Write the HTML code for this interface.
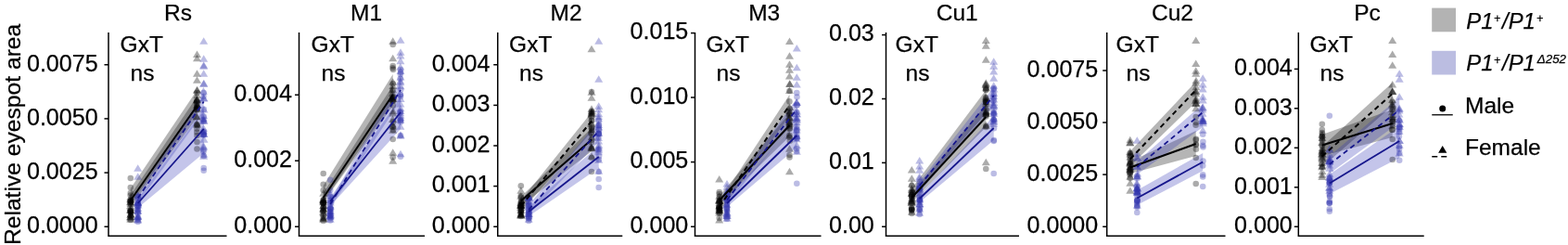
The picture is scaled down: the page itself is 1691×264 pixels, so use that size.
<!DOCTYPE html>
<html><head><meta charset="utf-8"><title>Relative eyespot area</title>
<style>html,body{margin:0;padding:0;background:#fff}svg{display:block}text{stroke:#000;stroke-width:.25px;stroke-linejoin:round}</style></head>
<body>
<svg width="1691" height="264" viewBox="0 0 1691 264" font-family="'Liberation Sans', sans-serif" font-size="24.5" fill="#000">
<rect width="1691" height="264" fill="#fff"/>
<text transform="translate(22.2,144.9) rotate(-90)" text-anchor="middle" font-size="24.65">Relative eyespot area</text>
<g>
<text x="192" y="21.7" text-anchor="middle" class="t">Rs</text>
<path d="M140.8 210L212.5 104V127L140.8 223Z" fill="#000000" fill-opacity="0.29"/>
<path d="M140.8 203L212.5 97V121L140.8 220Z" fill="#000000" fill-opacity="0.29"/>
<path d="M148.7 214L219.7 118V165L148.7 224Z" fill="#3338b8" fill-opacity="0.29"/>
<path d="M148.7 209L219.7 100V121L148.7 219Z" fill="#3338b8" fill-opacity="0.29"/>
<g fill="#000000" fill-opacity="0.33">
<circle cx="140.8" cy="216.3" r="3.3"/><circle cx="140.8" cy="219.7" r="3.3"/><circle cx="140.9" cy="229.8" r="3.3"/><circle cx="140.7" cy="232.7" r="3.3"/><circle cx="140.6" cy="217.9" r="3.3"/><circle cx="140.5" cy="226.6" r="3.3"/><circle cx="140.7" cy="210.5" r="3.3"/><circle cx="140.9" cy="228.0" r="3.3"/><circle cx="140.9" cy="216.8" r="3.3"/><circle cx="141.0" cy="227.7" r="3.3"/><circle cx="141.0" cy="229.2" r="3.3"/><circle cx="140.9" cy="227.5" r="3.3"/><circle cx="140.8" cy="216.4" r="3.3"/><circle cx="140.8" cy="208.0" r="3.3"/><circle cx="140.8" cy="237.0" r="3.3"/><circle cx="212.6" cy="135.3" r="3.3"/><circle cx="212.2" cy="108.7" r="3.3"/><circle cx="212.7" cy="116.2" r="3.3"/><circle cx="212.4" cy="138.7" r="3.3"/><circle cx="212.3" cy="142.6" r="3.3"/><circle cx="212.2" cy="112.0" r="3.3"/><circle cx="212.6" cy="118.5" r="3.3"/><circle cx="212.4" cy="110.1" r="3.3"/><circle cx="212.2" cy="115.8" r="3.3"/><circle cx="212.2" cy="117.9" r="3.3"/><circle cx="212.7" cy="114.4" r="3.3"/><circle cx="212.4" cy="134.0" r="3.3"/><circle cx="212.5" cy="100.0" r="3.3"/><circle cx="212.5" cy="146.0" r="3.3"/><circle cx="140.8" cy="192.0" r="3.3"/><circle cx="140.8" cy="202.0" r="3.3"/><circle cx="212.5" cy="153.0" r="3.3"/><circle cx="212.5" cy="160.5" r="3.3"/>
</g>
<g fill="#000000" fill-opacity="0.33">
<path d="M140.6 213.4l4.5 7.6h-9.0z"/><path d="M140.8 229.5l4.5 7.6h-9.0z"/><path d="M141.1 226.8l4.5 7.6h-9.0z"/><path d="M140.8 222.5l4.5 7.6h-9.0z"/><path d="M140.9 211.6l4.5 7.6h-9.0z"/><path d="M140.5 217.7l4.5 7.6h-9.0z"/><path d="M140.8 213.8l4.5 7.6h-9.0z"/><path d="M140.6 230.6l4.5 7.6h-9.0z"/><path d="M141.0 215.3l4.5 7.6h-9.0z"/><path d="M140.6 210.3l4.5 7.6h-9.0z"/><path d="M141.1 226.7l4.5 7.6h-9.0z"/><path d="M141.1 219.5l4.5 7.6h-9.0z"/><path d="M140.5 222.0l4.5 7.6h-9.0z"/><path d="M140.8 208.2l4.5 7.6h-9.0z"/><path d="M140.8 232.2l4.5 7.6h-9.0z"/><path d="M212.7 109.2l4.5 7.6h-9.0z"/><path d="M212.6 102.7l4.5 7.6h-9.0z"/><path d="M212.4 112.8l4.5 7.6h-9.0z"/><path d="M212.2 103.8l4.5 7.6h-9.0z"/><path d="M212.3 128.9l4.5 7.6h-9.0z"/><path d="M212.5 103.5l4.5 7.6h-9.0z"/><path d="M212.3 122.0l4.5 7.6h-9.0z"/><path d="M212.7 98.5l4.5 7.6h-9.0z"/><path d="M212.5 109.5l4.5 7.6h-9.0z"/><path d="M212.4 93.0l4.5 7.6h-9.0z"/><path d="M212.2 121.4l4.5 7.6h-9.0z"/><path d="M212.7 92.9l4.5 7.6h-9.0z"/><path d="M212.5 82.2l4.5 7.6h-9.0z"/><path d="M212.5 130.2l4.5 7.6h-9.0z"/><path d="M212.5 54.5l4.5 7.6h-9.0z"/><path d="M212.5 58.7l4.5 7.6h-9.0z"/><path d="M212.5 75.2l4.5 7.6h-9.0z"/><path d="M140.8 227.2l4.5 7.6h-9.0z"/><path d="M140.8 229.2l4.5 7.6h-9.0z"/>
</g>
<g fill="#3135ac" fill-opacity="0.33">
<circle cx="148.9" cy="216.6" r="3.3"/><circle cx="148.6" cy="226.5" r="3.3"/><circle cx="148.4" cy="218.7" r="3.3"/><circle cx="149.0" cy="222.2" r="3.3"/><circle cx="148.4" cy="236.6" r="3.3"/><circle cx="149.0" cy="221.7" r="3.3"/><circle cx="148.4" cy="223.2" r="3.3"/><circle cx="148.5" cy="230.8" r="3.3"/><circle cx="148.6" cy="229.2" r="3.3"/><circle cx="148.5" cy="225.8" r="3.3"/><circle cx="149.0" cy="234.7" r="3.3"/><circle cx="148.9" cy="218.0" r="3.3"/><circle cx="148.6" cy="220.2" r="3.3"/><circle cx="148.7" cy="212.0" r="3.3"/><circle cx="148.7" cy="239.0" r="3.3"/><circle cx="219.6" cy="145.5" r="3.3"/><circle cx="219.6" cy="130.8" r="3.3"/><circle cx="219.5" cy="144.6" r="3.3"/><circle cx="219.6" cy="142.9" r="3.3"/><circle cx="219.7" cy="141.6" r="3.3"/><circle cx="219.5" cy="163.5" r="3.3"/><circle cx="219.5" cy="161.6" r="3.3"/><circle cx="219.8" cy="125.5" r="3.3"/><circle cx="219.8" cy="145.2" r="3.3"/><circle cx="219.5" cy="104.0" r="3.3"/><circle cx="219.9" cy="117.9" r="3.3"/><circle cx="219.5" cy="129.1" r="3.3"/><circle cx="219.7" cy="100.0" r="3.3"/><circle cx="219.7" cy="168.0" r="3.3"/><circle cx="219.7" cy="181.0" r="3.3"/><circle cx="219.7" cy="183.7" r="3.3"/>
</g>
<g fill="#3135ac" fill-opacity="0.33">
<path d="M148.8 214.9l4.5 7.6h-9.0z"/><path d="M148.7 213.7l4.5 7.6h-9.0z"/><path d="M148.6 229.6l4.5 7.6h-9.0z"/><path d="M148.8 208.5l4.5 7.6h-9.0z"/><path d="M148.8 214.3l4.5 7.6h-9.0z"/><path d="M148.8 228.6l4.5 7.6h-9.0z"/><path d="M148.8 220.5l4.5 7.6h-9.0z"/><path d="M148.7 222.7l4.5 7.6h-9.0z"/><path d="M149.0 216.9l4.5 7.6h-9.0z"/><path d="M148.7 206.8l4.5 7.6h-9.0z"/><path d="M148.7 214.0l4.5 7.6h-9.0z"/><path d="M148.7 229.5l4.5 7.6h-9.0z"/><path d="M148.6 223.3l4.5 7.6h-9.0z"/><path d="M148.7 206.2l4.5 7.6h-9.0z"/><path d="M148.7 233.2l4.5 7.6h-9.0z"/><path d="M219.9 162.2l4.5 7.6h-9.0z"/><path d="M219.6 86.2l4.5 7.6h-9.0z"/><path d="M219.6 120.4l4.5 7.6h-9.0z"/><path d="M220.0 126.2l4.5 7.6h-9.0z"/><path d="M220.0 140.4l4.5 7.6h-9.0z"/><path d="M219.7 154.7l4.5 7.6h-9.0z"/><path d="M220.0 146.1l4.5 7.6h-9.0z"/><path d="M219.8 101.6l4.5 7.6h-9.0z"/><path d="M219.5 125.9l4.5 7.6h-9.0z"/><path d="M220.0 114.0l4.5 7.6h-9.0z"/><path d="M219.6 137.2l4.5 7.6h-9.0z"/><path d="M219.9 102.0l4.5 7.6h-9.0z"/><path d="M219.6 139.8l4.5 7.6h-9.0z"/><path d="M219.5 124.0l4.5 7.6h-9.0z"/><path d="M219.6 134.2l4.5 7.6h-9.0z"/><path d="M219.4 94.1l4.5 7.6h-9.0z"/><path d="M219.9 85.8l4.5 7.6h-9.0z"/><path d="M219.5 153.1l4.5 7.6h-9.0z"/><path d="M219.7 75.2l4.5 7.6h-9.0z"/><path d="M219.7 164.2l4.5 7.6h-9.0z"/><path d="M219.7 40.2l4.5 7.6h-9.0z"/><path d="M219.7 59.2l4.5 7.6h-9.0z"/><path d="M219.7 66.2l4.5 7.6h-9.0z"/><path d="M219.7 67.2l4.5 7.6h-9.0z"/><path d="M148.7 177.2l4.5 7.6h-9.0z"/><path d="M148.7 186.2l4.5 7.6h-9.0z"/><path d="M148.7 232.2l4.5 7.6h-9.0z"/>
</g>
<path d="M140.8 216L212.5 114" stroke="#000" stroke-width="2.0" fill="none"/>
<path d="M148.7 219L219.7 139" stroke="#16168c" stroke-width="1.8" fill="none"/>
<path d="M148.7 213.5L219.7 109.5" stroke="#16168c" stroke-width="1.8" stroke-dasharray="5.5 4" fill="none"/>
<path d="M117 35V254.2H244.5" stroke="#000" stroke-width="1.5" fill="none"/>
<path d="M112.5 244.25H117" stroke="#000" stroke-width="1.5"/>
<text x="105.7" y="250.9" text-anchor="end" font-size="25.1">0.0000</text>
<path d="M112.5 186.1H117" stroke="#000" stroke-width="1.5"/>
<text x="105.7" y="192.8" text-anchor="end" font-size="25.1">0.0025</text>
<path d="M112.5 127.9H117" stroke="#000" stroke-width="1.5"/>
<text x="105.7" y="134.6" text-anchor="end" font-size="25.1">0.0050</text>
<path d="M112.5 69.75H117" stroke="#000" stroke-width="1.5"/>
<text x="105.7" y="76.5" text-anchor="end" font-size="25.1">0.0075</text>
<text x="129.6" y="55.8" class="t">GxT</text>
<text x="140.5" y="86.7" class="t">ns</text>
</g>
<g>
<text x="395" y="21.7" text-anchor="middle" class="t">M1</text>
<path d="M348.7 208L423.7 92V114L348.7 218Z" fill="#000000" fill-opacity="0.29"/>
<path d="M348.7 200L423.7 80V110L348.7 217Z" fill="#000000" fill-opacity="0.29"/>
<path d="M356.2 213L432 105V139L356.2 222Z" fill="#3338b8" fill-opacity="0.29"/>
<path d="M356.2 216L432 86V108L356.2 224Z" fill="#3338b8" fill-opacity="0.29"/>
<g fill="#000000" fill-opacity="0.33">
<circle cx="348.7" cy="218.6" r="3.3"/><circle cx="348.6" cy="227.0" r="3.3"/><circle cx="348.6" cy="224.0" r="3.3"/><circle cx="348.7" cy="234.8" r="3.3"/><circle cx="348.7" cy="215.3" r="3.3"/><circle cx="348.7" cy="232.2" r="3.3"/><circle cx="348.7" cy="218.2" r="3.3"/><circle cx="348.5" cy="218.4" r="3.3"/><circle cx="348.7" cy="219.4" r="3.3"/><circle cx="349.0" cy="215.5" r="3.3"/><circle cx="348.5" cy="219.0" r="3.3"/><circle cx="349.0" cy="223.0" r="3.3"/><circle cx="348.5" cy="227.8" r="3.3"/><circle cx="348.7" cy="205.0" r="3.3"/><circle cx="348.7" cy="238.0" r="3.3"/><circle cx="423.5" cy="73.2" r="3.3"/><circle cx="423.6" cy="136.7" r="3.3"/><circle cx="423.9" cy="140.3" r="3.3"/><circle cx="424.0" cy="131.4" r="3.3"/><circle cx="423.6" cy="104.5" r="3.3"/><circle cx="424.0" cy="74.9" r="3.3"/><circle cx="423.5" cy="96.9" r="3.3"/><circle cx="423.8" cy="108.7" r="3.3"/><circle cx="423.4" cy="108.5" r="3.3"/><circle cx="423.4" cy="106.6" r="3.3"/><circle cx="423.7" cy="113.4" r="3.3"/><circle cx="423.8" cy="90.3" r="3.3"/><circle cx="423.7" cy="71.0" r="3.3"/><circle cx="423.7" cy="150.0" r="3.3"/><circle cx="348.7" cy="187.0" r="3.3"/><circle cx="348.7" cy="198.7" r="3.3"/><circle cx="423.7" cy="48.0" r="3.3"/><circle cx="423.7" cy="169.5" r="3.3"/>
</g>
<g fill="#000000" fill-opacity="0.33">
<path d="M348.6 230.1l4.5 7.6h-9.0z"/><path d="M348.5 224.3l4.5 7.6h-9.0z"/><path d="M348.8 220.4l4.5 7.6h-9.0z"/><path d="M348.4 210.7l4.5 7.6h-9.0z"/><path d="M348.7 220.9l4.5 7.6h-9.0z"/><path d="M348.5 211.9l4.5 7.6h-9.0z"/><path d="M348.8 222.0l4.5 7.6h-9.0z"/><path d="M348.8 231.3l4.5 7.6h-9.0z"/><path d="M348.7 217.6l4.5 7.6h-9.0z"/><path d="M348.5 213.7l4.5 7.6h-9.0z"/><path d="M349.0 225.6l4.5 7.6h-9.0z"/><path d="M348.9 217.3l4.5 7.6h-9.0z"/><path d="M348.9 211.3l4.5 7.6h-9.0z"/><path d="M348.7 204.2l4.5 7.6h-9.0z"/><path d="M348.7 232.2l4.5 7.6h-9.0z"/><path d="M423.5 96.1l4.5 7.6h-9.0z"/><path d="M424.0 102.6l4.5 7.6h-9.0z"/><path d="M424.0 99.2l4.5 7.6h-9.0z"/><path d="M423.5 102.2l4.5 7.6h-9.0z"/><path d="M423.7 117.8l4.5 7.6h-9.0z"/><path d="M423.9 115.7l4.5 7.6h-9.0z"/><path d="M423.8 88.5l4.5 7.6h-9.0z"/><path d="M423.8 100.6l4.5 7.6h-9.0z"/><path d="M423.7 131.8l4.5 7.6h-9.0z"/><path d="M423.5 92.6l4.5 7.6h-9.0z"/><path d="M423.5 124.3l4.5 7.6h-9.0z"/><path d="M423.4 129.8l4.5 7.6h-9.0z"/><path d="M423.7 84.2l4.5 7.6h-9.0z"/><path d="M423.7 136.2l4.5 7.6h-9.0z"/><path d="M423.7 40.2l4.5 7.6h-9.0z"/><path d="M423.7 58.7l4.5 7.6h-9.0z"/><path d="M423.7 160.2l4.5 7.6h-9.0z"/><path d="M423.7 169.2l4.5 7.6h-9.0z"/>
</g>
<g fill="#3135ac" fill-opacity="0.33">
<circle cx="356.2" cy="226.4" r="3.3"/><circle cx="356.5" cy="228.2" r="3.3"/><circle cx="356.2" cy="232.2" r="3.3"/><circle cx="356.0" cy="215.9" r="3.3"/><circle cx="356.2" cy="228.1" r="3.3"/><circle cx="356.5" cy="225.2" r="3.3"/><circle cx="356.0" cy="232.0" r="3.3"/><circle cx="356.2" cy="225.0" r="3.3"/><circle cx="356.3" cy="232.3" r="3.3"/><circle cx="356.2" cy="224.5" r="3.3"/><circle cx="356.3" cy="219.4" r="3.3"/><circle cx="356.5" cy="212.1" r="3.3"/><circle cx="356.3" cy="235.0" r="3.3"/><circle cx="356.2" cy="205.0" r="3.3"/><circle cx="356.2" cy="237.5" r="3.3"/><circle cx="431.7" cy="121.5" r="3.3"/><circle cx="431.8" cy="80.0" r="3.3"/><circle cx="432.0" cy="128.9" r="3.3"/><circle cx="431.8" cy="102.0" r="3.3"/><circle cx="431.9" cy="102.2" r="3.3"/><circle cx="432.1" cy="77.9" r="3.3"/><circle cx="432.2" cy="96.5" r="3.3"/><circle cx="431.7" cy="84.9" r="3.3"/><circle cx="432.1" cy="131.4" r="3.3"/><circle cx="431.7" cy="120.2" r="3.3"/><circle cx="432.0" cy="130.0" r="3.3"/><circle cx="432.1" cy="104.0" r="3.3"/><circle cx="432.0" cy="75.0" r="3.3"/><circle cx="432.0" cy="146.0" r="3.3"/><circle cx="356.2" cy="193.7" r="3.3"/><circle cx="432.0" cy="168.7" r="3.3"/>
</g>
<g fill="#3135ac" fill-opacity="0.33">
<path d="M356.2 228.3l4.5 7.6h-9.0z"/><path d="M356.5 227.4l4.5 7.6h-9.0z"/><path d="M356.0 228.7l4.5 7.6h-9.0z"/><path d="M356.4 218.1l4.5 7.6h-9.0z"/><path d="M356.5 211.6l4.5 7.6h-9.0z"/><path d="M356.2 213.8l4.5 7.6h-9.0z"/><path d="M356.3 225.7l4.5 7.6h-9.0z"/><path d="M356.1 216.6l4.5 7.6h-9.0z"/><path d="M356.3 206.4l4.5 7.6h-9.0z"/><path d="M356.4 209.7l4.5 7.6h-9.0z"/><path d="M355.9 229.4l4.5 7.6h-9.0z"/><path d="M356.3 223.4l4.5 7.6h-9.0z"/><path d="M356.0 224.0l4.5 7.6h-9.0z"/><path d="M356.2 204.2l4.5 7.6h-9.0z"/><path d="M356.2 232.2l4.5 7.6h-9.0z"/><path d="M431.9 132.2l4.5 7.6h-9.0z"/><path d="M432.0 120.2l4.5 7.6h-9.0z"/><path d="M431.9 61.6l4.5 7.6h-9.0z"/><path d="M431.8 125.1l4.5 7.6h-9.0z"/><path d="M432.0 141.2l4.5 7.6h-9.0z"/><path d="M432.0 115.4l4.5 7.6h-9.0z"/><path d="M432.1 102.3l4.5 7.6h-9.0z"/><path d="M431.9 122.6l4.5 7.6h-9.0z"/><path d="M431.8 84.6l4.5 7.6h-9.0z"/><path d="M432.1 78.9l4.5 7.6h-9.0z"/><path d="M432.1 112.7l4.5 7.6h-9.0z"/><path d="M432.0 88.7l4.5 7.6h-9.0z"/><path d="M431.8 67.9l4.5 7.6h-9.0z"/><path d="M431.8 83.1l4.5 7.6h-9.0z"/><path d="M431.8 117.7l4.5 7.6h-9.0z"/><path d="M432.0 72.5l4.5 7.6h-9.0z"/><path d="M431.9 107.8l4.5 7.6h-9.0z"/><path d="M432.0 55.9l4.5 7.6h-9.0z"/><path d="M432.0 52.2l4.5 7.6h-9.0z"/><path d="M432.0 142.2l4.5 7.6h-9.0z"/><path d="M432.0 39.2l4.5 7.6h-9.0z"/><path d="M432.0 161.7l4.5 7.6h-9.0z"/>
</g>
<path d="M348.7 213L423.7 102" stroke="#000" stroke-width="2.0" fill="none"/>
<path d="M356.2 217L432 121" stroke="#16168c" stroke-width="1.8" fill="none"/>
<path d="M356.2 220L432 97" stroke="#16168c" stroke-width="1.8" stroke-dasharray="5.5 4" fill="none"/>
<path d="M322.5 35V254.2H458" stroke="#000" stroke-width="1.5" fill="none"/>
<path d="M318.0 244.25H322.5" stroke="#000" stroke-width="1.5"/>
<text x="315.0" y="250.9" text-anchor="end" font-size="25.1">0.000</text>
<path d="M318.0 173.25H322.5" stroke="#000" stroke-width="1.5"/>
<text x="315.0" y="179.9" text-anchor="end" font-size="25.1">0.002</text>
<path d="M318.0 102.25H322.5" stroke="#000" stroke-width="1.5"/>
<text x="315.0" y="109.0" text-anchor="end" font-size="25.1">0.004</text>
<text x="335.6" y="55.8" class="t">GxT</text>
<text x="346.5" y="86.7" class="t">ns</text>
</g>
<g>
<text x="610.5" y="21.7" text-anchor="middle" class="t">M2</text>
<path d="M561.8 212L638 138V163L561.8 222Z" fill="#000000" fill-opacity="0.29"/>
<path d="M561.8 216L638 121V142L561.8 228Z" fill="#000000" fill-opacity="0.29"/>
<path d="M570.2 223L645.7 157V181L570.2 233Z" fill="#3338b8" fill-opacity="0.29"/>
<path d="M570.2 221L645.7 130V153L570.2 231Z" fill="#3338b8" fill-opacity="0.29"/>
<g fill="#000000" fill-opacity="0.33">
<circle cx="561.7" cy="229.2" r="3.3"/><circle cx="561.9" cy="226.6" r="3.3"/><circle cx="562.0" cy="217.5" r="3.3"/><circle cx="561.8" cy="222.4" r="3.3"/><circle cx="562.0" cy="226.9" r="3.3"/><circle cx="561.8" cy="228.5" r="3.3"/><circle cx="561.6" cy="221.1" r="3.3"/><circle cx="562.1" cy="225.9" r="3.3"/><circle cx="562.1" cy="216.7" r="3.3"/><circle cx="561.9" cy="221.2" r="3.3"/><circle cx="561.6" cy="223.5" r="3.3"/><circle cx="561.7" cy="231.2" r="3.3"/><circle cx="561.7" cy="212.4" r="3.3"/><circle cx="561.8" cy="211.0" r="3.3"/><circle cx="561.8" cy="233.0" r="3.3"/><circle cx="638.0" cy="129.9" r="3.3"/><circle cx="637.8" cy="138.2" r="3.3"/><circle cx="638.0" cy="150.8" r="3.3"/><circle cx="638.2" cy="139.8" r="3.3"/><circle cx="637.9" cy="153.6" r="3.3"/><circle cx="637.7" cy="143.2" r="3.3"/><circle cx="638.0" cy="160.1" r="3.3"/><circle cx="638.3" cy="137.3" r="3.3"/><circle cx="637.7" cy="144.8" r="3.3"/><circle cx="637.8" cy="121.6" r="3.3"/><circle cx="637.8" cy="125.7" r="3.3"/><circle cx="638.1" cy="130.1" r="3.3"/><circle cx="638.0" cy="120.0" r="3.3"/><circle cx="638.0" cy="170.0" r="3.3"/><circle cx="561.8" cy="200.3" r="3.3"/><circle cx="638.0" cy="99.0" r="3.3"/><circle cx="638.0" cy="185.0" r="3.3"/>
</g>
<g fill="#000000" fill-opacity="0.33">
<path d="M562.0 216.8l4.5 7.6h-9.0z"/><path d="M561.8 222.3l4.5 7.6h-9.0z"/><path d="M561.8 214.3l4.5 7.6h-9.0z"/><path d="M561.8 227.6l4.5 7.6h-9.0z"/><path d="M561.5 219.7l4.5 7.6h-9.0z"/><path d="M561.9 226.9l4.5 7.6h-9.0z"/><path d="M561.9 226.1l4.5 7.6h-9.0z"/><path d="M561.8 217.3l4.5 7.6h-9.0z"/><path d="M561.7 216.0l4.5 7.6h-9.0z"/><path d="M561.9 217.7l4.5 7.6h-9.0z"/><path d="M562.0 213.9l4.5 7.6h-9.0z"/><path d="M561.5 216.9l4.5 7.6h-9.0z"/><path d="M562.0 211.8l4.5 7.6h-9.0z"/><path d="M561.8 207.2l4.5 7.6h-9.0z"/><path d="M561.8 228.2l4.5 7.6h-9.0z"/><path d="M638.1 135.7l4.5 7.6h-9.0z"/><path d="M637.8 129.3l4.5 7.6h-9.0z"/><path d="M638.2 143.7l4.5 7.6h-9.0z"/><path d="M638.0 155.6l4.5 7.6h-9.0z"/><path d="M637.7 127.9l4.5 7.6h-9.0z"/><path d="M638.0 155.2l4.5 7.6h-9.0z"/><path d="M638.3 115.4l4.5 7.6h-9.0z"/><path d="M637.8 154.1l4.5 7.6h-9.0z"/><path d="M637.8 118.0l4.5 7.6h-9.0z"/><path d="M637.8 119.6l4.5 7.6h-9.0z"/><path d="M638.1 116.7l4.5 7.6h-9.0z"/><path d="M638.3 118.2l4.5 7.6h-9.0z"/><path d="M638.0 113.2l4.5 7.6h-9.0z"/><path d="M638.0 164.2l4.5 7.6h-9.0z"/><path d="M561.8 201.2l4.5 7.6h-9.0z"/><path d="M561.8 227.2l4.5 7.6h-9.0z"/><path d="M638.0 48.7l4.5 7.6h-9.0z"/><path d="M638.0 95.2l4.5 7.6h-9.0z"/><path d="M638.0 101.2l4.5 7.6h-9.0z"/>
</g>
<g fill="#3135ac" fill-opacity="0.33">
<circle cx="570.4" cy="235.3" r="3.3"/><circle cx="570.2" cy="226.8" r="3.3"/><circle cx="570.1" cy="231.4" r="3.3"/><circle cx="570.4" cy="229.3" r="3.3"/><circle cx="570.3" cy="235.1" r="3.3"/><circle cx="570.1" cy="220.8" r="3.3"/><circle cx="570.3" cy="226.4" r="3.3"/><circle cx="570.4" cy="220.1" r="3.3"/><circle cx="570.2" cy="214.1" r="3.3"/><circle cx="570.4" cy="217.1" r="3.3"/><circle cx="570.0" cy="222.0" r="3.3"/><circle cx="570.3" cy="233.6" r="3.3"/><circle cx="570.4" cy="229.3" r="3.3"/><circle cx="570.2" cy="213.0" r="3.3"/><circle cx="570.2" cy="238.0" r="3.3"/><circle cx="645.5" cy="144.0" r="3.3"/><circle cx="645.5" cy="161.3" r="3.3"/><circle cx="645.7" cy="139.7" r="3.3"/><circle cx="645.9" cy="172.0" r="3.3"/><circle cx="645.4" cy="148.2" r="3.3"/><circle cx="645.9" cy="134.4" r="3.3"/><circle cx="646.0" cy="144.7" r="3.3"/><circle cx="645.7" cy="143.9" r="3.3"/><circle cx="646.0" cy="139.8" r="3.3"/><circle cx="645.8" cy="143.7" r="3.3"/><circle cx="646.0" cy="168.3" r="3.3"/><circle cx="645.9" cy="135.4" r="3.3"/><circle cx="645.7" cy="130.0" r="3.3"/><circle cx="645.7" cy="185.0" r="3.3"/><circle cx="645.7" cy="193.0" r="3.3"/><circle cx="645.7" cy="202.0" r="3.3"/>
</g>
<g fill="#3135ac" fill-opacity="0.33">
<path d="M570.5 208.9l4.5 7.6h-9.0z"/><path d="M570.3 208.8l4.5 7.6h-9.0z"/><path d="M570.0 219.2l4.5 7.6h-9.0z"/><path d="M570.3 224.1l4.5 7.6h-9.0z"/><path d="M570.5 208.6l4.5 7.6h-9.0z"/><path d="M570.4 226.7l4.5 7.6h-9.0z"/><path d="M569.9 226.2l4.5 7.6h-9.0z"/><path d="M570.1 228.7l4.5 7.6h-9.0z"/><path d="M570.1 222.3l4.5 7.6h-9.0z"/><path d="M570.0 216.3l4.5 7.6h-9.0z"/><path d="M570.0 218.0l4.5 7.6h-9.0z"/><path d="M570.4 226.1l4.5 7.6h-9.0z"/><path d="M569.9 212.6l4.5 7.6h-9.0z"/><path d="M570.2 207.2l4.5 7.6h-9.0z"/><path d="M570.2 232.2l4.5 7.6h-9.0z"/><path d="M645.5 123.7l4.5 7.6h-9.0z"/><path d="M645.5 159.7l4.5 7.6h-9.0z"/><path d="M645.8 152.1l4.5 7.6h-9.0z"/><path d="M645.4 144.5l4.5 7.6h-9.0z"/><path d="M645.7 132.8l4.5 7.6h-9.0z"/><path d="M645.6 113.7l4.5 7.6h-9.0z"/><path d="M645.6 130.4l4.5 7.6h-9.0z"/><path d="M645.8 139.4l4.5 7.6h-9.0z"/><path d="M645.6 157.7l4.5 7.6h-9.0z"/><path d="M645.7 155.9l4.5 7.6h-9.0z"/><path d="M645.6 153.8l4.5 7.6h-9.0z"/><path d="M645.7 118.6l4.5 7.6h-9.0z"/><path d="M645.6 147.9l4.5 7.6h-9.0z"/><path d="M645.5 121.3l4.5 7.6h-9.0z"/><path d="M645.7 110.2l4.5 7.6h-9.0z"/><path d="M645.7 168.2l4.5 7.6h-9.0z"/><path d="M645.7 40.2l4.5 7.6h-9.0z"/><path d="M645.7 81.2l4.5 7.6h-9.0z"/><path d="M645.7 180.2l4.5 7.6h-9.0z"/>
</g>
<path d="M561.8 216.5L638 150.5" stroke="#000" stroke-width="2.0" fill="none"/>
<path d="M561.8 222L638 130.6" stroke="#000" stroke-width="2.0" stroke-dasharray="5.5 4" fill="none"/>
<path d="M570.2 228L645.7 169" stroke="#16168c" stroke-width="1.8" fill="none"/>
<path d="M570.2 226L645.7 141" stroke="#16168c" stroke-width="1.8" stroke-dasharray="5.5 4" fill="none"/>
<path d="M536.75 35V254.2H671.25" stroke="#000" stroke-width="1.5" fill="none"/>
<path d="M532.25 244.25H536.75" stroke="#000" stroke-width="1.5"/>
<text x="528.5" y="250.9" text-anchor="end" font-size="25.1">0.000</text>
<path d="M532.25 200.6H536.75" stroke="#000" stroke-width="1.5"/>
<text x="528.5" y="207.3" text-anchor="end" font-size="25.1">0.001</text>
<path d="M532.25 157H536.75" stroke="#000" stroke-width="1.5"/>
<text x="528.5" y="163.7" text-anchor="end" font-size="25.1">0.002</text>
<path d="M532.25 113.4H536.75" stroke="#000" stroke-width="1.5"/>
<text x="528.5" y="120.1" text-anchor="end" font-size="25.1">0.003</text>
<path d="M532.25 69.75H536.75" stroke="#000" stroke-width="1.5"/>
<text x="528.5" y="76.5" text-anchor="end" font-size="25.1">0.004</text>
<text x="549.1" y="55.8" class="t">GxT</text>
<text x="560" y="86.7" class="t">ns</text>
</g>
<g>
<text x="824.2" y="21.7" text-anchor="middle" class="t">M3</text>
<path d="M775.7 211L851.5 122V147L775.7 221Z" fill="#000000" fill-opacity="0.29"/>
<path d="M775.7 217L851.5 102V125L775.7 229Z" fill="#000000" fill-opacity="0.29"/>
<path d="M784 215L859.3 131V159L784 223Z" fill="#3338b8" fill-opacity="0.29"/>
<path d="M784 211L859.3 106V129L784 220Z" fill="#3338b8" fill-opacity="0.29"/>
<g fill="#000000" fill-opacity="0.33">
<circle cx="775.9" cy="229.7" r="3.3"/><circle cx="775.6" cy="225.3" r="3.3"/><circle cx="775.9" cy="215.4" r="3.3"/><circle cx="775.6" cy="223.7" r="3.3"/><circle cx="775.4" cy="223.7" r="3.3"/><circle cx="775.8" cy="211.9" r="3.3"/><circle cx="775.8" cy="225.7" r="3.3"/><circle cx="775.7" cy="222.5" r="3.3"/><circle cx="776.0" cy="226.9" r="3.3"/><circle cx="775.5" cy="222.8" r="3.3"/><circle cx="775.6" cy="217.5" r="3.3"/><circle cx="775.8" cy="216.6" r="3.3"/><circle cx="775.7" cy="228.6" r="3.3"/><circle cx="775.7" cy="209.0" r="3.3"/><circle cx="775.7" cy="235.0" r="3.3"/><circle cx="851.3" cy="136.2" r="3.3"/><circle cx="851.2" cy="123.6" r="3.3"/><circle cx="851.5" cy="138.9" r="3.3"/><circle cx="851.3" cy="131.9" r="3.3"/><circle cx="851.4" cy="109.4" r="3.3"/><circle cx="851.8" cy="151.7" r="3.3"/><circle cx="851.7" cy="117.2" r="3.3"/><circle cx="851.7" cy="138.1" r="3.3"/><circle cx="851.3" cy="121.4" r="3.3"/><circle cx="851.5" cy="145.7" r="3.3"/><circle cx="851.5" cy="134.4" r="3.3"/><circle cx="851.4" cy="147.7" r="3.3"/><circle cx="851.5" cy="98.0" r="3.3"/><circle cx="851.5" cy="167.0" r="3.3"/><circle cx="775.7" cy="207.0" r="3.3"/><circle cx="851.5" cy="169.5" r="3.3"/>
</g>
<g fill="#000000" fill-opacity="0.33">
<path d="M775.6 217.9l4.5 7.6h-9.0z"/><path d="M776.0 212.2l4.5 7.6h-9.0z"/><path d="M775.5 211.5l4.5 7.6h-9.0z"/><path d="M776.0 217.7l4.5 7.6h-9.0z"/><path d="M775.6 224.9l4.5 7.6h-9.0z"/><path d="M775.8 220.2l4.5 7.6h-9.0z"/><path d="M775.7 222.7l4.5 7.6h-9.0z"/><path d="M776.0 222.4l4.5 7.6h-9.0z"/><path d="M775.9 220.6l4.5 7.6h-9.0z"/><path d="M775.9 214.2l4.5 7.6h-9.0z"/><path d="M775.7 222.6l4.5 7.6h-9.0z"/><path d="M775.6 212.5l4.5 7.6h-9.0z"/><path d="M775.8 211.7l4.5 7.6h-9.0z"/><path d="M775.7 207.2l4.5 7.6h-9.0z"/><path d="M775.7 233.0l4.5 7.6h-9.0z"/><path d="M851.4 123.7l4.5 7.6h-9.0z"/><path d="M851.3 127.1l4.5 7.6h-9.0z"/><path d="M851.6 86.2l4.5 7.6h-9.0z"/><path d="M851.4 78.0l4.5 7.6h-9.0z"/><path d="M851.5 122.4l4.5 7.6h-9.0z"/><path d="M851.7 111.4l4.5 7.6h-9.0z"/><path d="M851.3 121.9l4.5 7.6h-9.0z"/><path d="M851.8 86.5l4.5 7.6h-9.0z"/><path d="M851.6 129.0l4.5 7.6h-9.0z"/><path d="M851.3 118.0l4.5 7.6h-9.0z"/><path d="M851.4 115.3l4.5 7.6h-9.0z"/><path d="M851.4 93.5l4.5 7.6h-9.0z"/><path d="M851.3 141.9l4.5 7.6h-9.0z"/><path d="M851.5 71.2l4.5 7.6h-9.0z"/><path d="M851.5 156.2l4.5 7.6h-9.0z"/><path d="M775.7 189.0l4.5 7.6h-9.0z"/><path d="M851.5 40.4l4.5 7.6h-9.0z"/><path d="M851.5 56.2l4.5 7.6h-9.0z"/><path d="M851.5 65.2l4.5 7.6h-9.0z"/><path d="M851.5 180.7l4.5 7.6h-9.0z"/>
</g>
<g fill="#3135ac" fill-opacity="0.33">
<circle cx="784.2" cy="227.3" r="3.3"/><circle cx="783.8" cy="223.1" r="3.3"/><circle cx="783.9" cy="226.3" r="3.3"/><circle cx="784.2" cy="219.5" r="3.3"/><circle cx="784.2" cy="215.8" r="3.3"/><circle cx="783.9" cy="220.4" r="3.3"/><circle cx="784.0" cy="213.9" r="3.3"/><circle cx="783.9" cy="224.7" r="3.3"/><circle cx="783.9" cy="215.7" r="3.3"/><circle cx="783.7" cy="234.3" r="3.3"/><circle cx="784.1" cy="228.9" r="3.3"/><circle cx="783.8" cy="224.8" r="3.3"/><circle cx="783.9" cy="216.8" r="3.3"/><circle cx="784.0" cy="211.0" r="3.3"/><circle cx="784.0" cy="236.0" r="3.3"/><circle cx="859.5" cy="104.6" r="3.3"/><circle cx="859.4" cy="145.0" r="3.3"/><circle cx="859.1" cy="160.3" r="3.3"/><circle cx="859.5" cy="113.5" r="3.3"/><circle cx="859.4" cy="113.1" r="3.3"/><circle cx="859.3" cy="121.0" r="3.3"/><circle cx="859.6" cy="149.3" r="3.3"/><circle cx="859.2" cy="147.5" r="3.3"/><circle cx="859.4" cy="136.1" r="3.3"/><circle cx="859.3" cy="149.0" r="3.3"/><circle cx="859.2" cy="141.3" r="3.3"/><circle cx="859.3" cy="139.7" r="3.3"/><circle cx="859.3" cy="100.0" r="3.3"/><circle cx="859.3" cy="163.0" r="3.3"/><circle cx="859.3" cy="197.8" r="3.3"/>
</g>
<g fill="#3135ac" fill-opacity="0.33">
<path d="M783.9 228.3l4.5 7.6h-9.0z"/><path d="M783.8 208.9l4.5 7.6h-9.0z"/><path d="M783.7 215.9l4.5 7.6h-9.0z"/><path d="M784.0 202.9l4.5 7.6h-9.0z"/><path d="M784.0 208.7l4.5 7.6h-9.0z"/><path d="M784.3 203.0l4.5 7.6h-9.0z"/><path d="M783.7 224.4l4.5 7.6h-9.0z"/><path d="M784.1 225.5l4.5 7.6h-9.0z"/><path d="M784.2 228.4l4.5 7.6h-9.0z"/><path d="M783.9 226.8l4.5 7.6h-9.0z"/><path d="M783.8 216.7l4.5 7.6h-9.0z"/><path d="M784.1 204.5l4.5 7.6h-9.0z"/><path d="M783.8 226.1l4.5 7.6h-9.0z"/><path d="M784.0 202.2l4.5 7.6h-9.0z"/><path d="M784.0 231.2l4.5 7.6h-9.0z"/><path d="M859.1 145.7l4.5 7.6h-9.0z"/><path d="M859.4 132.8l4.5 7.6h-9.0z"/><path d="M859.3 106.5l4.5 7.6h-9.0z"/><path d="M859.2 124.2l4.5 7.6h-9.0z"/><path d="M859.1 118.3l4.5 7.6h-9.0z"/><path d="M859.1 123.1l4.5 7.6h-9.0z"/><path d="M859.5 115.9l4.5 7.6h-9.0z"/><path d="M859.2 142.3l4.5 7.6h-9.0z"/><path d="M859.2 135.9l4.5 7.6h-9.0z"/><path d="M859.4 152.6l4.5 7.6h-9.0z"/><path d="M859.3 125.1l4.5 7.6h-9.0z"/><path d="M859.1 127.4l4.5 7.6h-9.0z"/><path d="M859.5 118.9l4.5 7.6h-9.0z"/><path d="M859.3 122.5l4.5 7.6h-9.0z"/><path d="M859.3 106.2l4.5 7.6h-9.0z"/><path d="M859.3 159.2l4.5 7.6h-9.0z"/><path d="M784.0 194.0l4.5 7.6h-9.0z"/><path d="M784.0 197.2l4.5 7.6h-9.0z"/><path d="M859.3 47.9l4.5 7.6h-9.0z"/><path d="M859.3 68.7l4.5 7.6h-9.0z"/><path d="M859.3 79.2l4.5 7.6h-9.0z"/><path d="M859.3 86.9l4.5 7.6h-9.0z"/>
</g>
<path d="M775.7 216L851.5 135" stroke="#000" stroke-width="2.0" fill="none"/>
<path d="M775.7 223L851.5 113.5" stroke="#000" stroke-width="2.0" stroke-dasharray="5.5 4" fill="none"/>
<path d="M784 219L859.3 146" stroke="#16168c" stroke-width="1.8" fill="none"/>
<path d="M784 215.5L859.3 117.5" stroke="#16168c" stroke-width="1.8" stroke-dasharray="5.5 4" fill="none"/>
<path d="M749.5 35V254.2H885.5" stroke="#000" stroke-width="1.5" fill="none"/>
<path d="M745.0 244.25H749.5" stroke="#000" stroke-width="1.5"/>
<text x="742.3" y="250.9" text-anchor="end" font-size="25.1">0.000</text>
<path d="M745.0 174.6H749.5" stroke="#000" stroke-width="1.5"/>
<text x="742.3" y="181.3" text-anchor="end" font-size="25.1">0.005</text>
<path d="M745.0 105H749.5" stroke="#000" stroke-width="1.5"/>
<text x="742.3" y="111.7" text-anchor="end" font-size="25.1">0.010</text>
<path d="M745.0 35.6H749.5" stroke="#000" stroke-width="1.5"/>
<text x="742.3" y="42.3" text-anchor="end" font-size="25.1">0.015</text>
<text x="761.6" y="55.8" class="t">GxT</text>
<text x="772.5" y="86.7" class="t">ns</text>
</g>
<g>
<text x="1032.25" y="21.7" text-anchor="middle" class="t">Cu1</text>
<path d="M983.3 208L1063.3 113V137L983.3 218Z" fill="#000000" fill-opacity="0.29"/>
<path d="M983.3 203L1063.3 97V122L983.3 213Z" fill="#000000" fill-opacity="0.29"/>
<path d="M991.7 210L1071.7 125V151L991.7 218Z" fill="#3338b8" fill-opacity="0.29"/>
<path d="M991.7 196L1071.7 94V114L991.7 207Z" fill="#3338b8" fill-opacity="0.29"/>
<g fill="#000000" fill-opacity="0.33">
<circle cx="983.3" cy="214.6" r="3.3"/><circle cx="983.3" cy="218.6" r="3.3"/><circle cx="983.4" cy="226.4" r="3.3"/><circle cx="983.6" cy="207.1" r="3.3"/><circle cx="983.0" cy="224.1" r="3.3"/><circle cx="983.1" cy="226.5" r="3.3"/><circle cx="983.4" cy="212.3" r="3.3"/><circle cx="983.4" cy="210.4" r="3.3"/><circle cx="983.1" cy="225.5" r="3.3"/><circle cx="983.4" cy="224.6" r="3.3"/><circle cx="983.3" cy="210.8" r="3.3"/><circle cx="983.2" cy="212.0" r="3.3"/><circle cx="983.3" cy="225.5" r="3.3"/><circle cx="983.3" cy="200.0" r="3.3"/><circle cx="983.3" cy="230.0" r="3.3"/><circle cx="1063.3" cy="125.5" r="3.3"/><circle cx="1063.5" cy="135.8" r="3.3"/><circle cx="1063.5" cy="121.8" r="3.3"/><circle cx="1063.2" cy="109.9" r="3.3"/><circle cx="1063.1" cy="105.4" r="3.3"/><circle cx="1063.2" cy="109.9" r="3.3"/><circle cx="1063.0" cy="96.4" r="3.3"/><circle cx="1063.3" cy="110.6" r="3.3"/><circle cx="1063.6" cy="108.3" r="3.3"/><circle cx="1063.5" cy="96.9" r="3.3"/><circle cx="1063.5" cy="123.5" r="3.3"/><circle cx="1063.5" cy="123.9" r="3.3"/><circle cx="1063.3" cy="95.0" r="3.3"/><circle cx="1063.3" cy="137.0" r="3.3"/><circle cx="1063.3" cy="182.0" r="3.3"/>
</g>
<g fill="#000000" fill-opacity="0.33">
<path d="M983.3 211.7l4.5 7.6h-9.0z"/><path d="M983.6 210.7l4.5 7.6h-9.0z"/><path d="M983.2 214.3l4.5 7.6h-9.0z"/><path d="M983.0 212.3l4.5 7.6h-9.0z"/><path d="M983.6 201.0l4.5 7.6h-9.0z"/><path d="M983.1 204.3l4.5 7.6h-9.0z"/><path d="M983.3 213.7l4.5 7.6h-9.0z"/><path d="M983.0 213.6l4.5 7.6h-9.0z"/><path d="M983.2 198.9l4.5 7.6h-9.0z"/><path d="M983.6 209.3l4.5 7.6h-9.0z"/><path d="M983.2 204.2l4.5 7.6h-9.0z"/><path d="M983.4 200.4l4.5 7.6h-9.0z"/><path d="M983.4 202.9l4.5 7.6h-9.0z"/><path d="M983.3 194.2l4.5 7.6h-9.0z"/><path d="M983.3 224.2l4.5 7.6h-9.0z"/><path d="M1063.4 105.7l4.5 7.6h-9.0z"/><path d="M1063.3 100.1l4.5 7.6h-9.0z"/><path d="M1063.0 87.3l4.5 7.6h-9.0z"/><path d="M1063.1 116.9l4.5 7.6h-9.0z"/><path d="M1063.3 112.2l4.5 7.6h-9.0z"/><path d="M1063.4 107.7l4.5 7.6h-9.0z"/><path d="M1063.5 110.9l4.5 7.6h-9.0z"/><path d="M1063.3 118.4l4.5 7.6h-9.0z"/><path d="M1063.2 86.4l4.5 7.6h-9.0z"/><path d="M1063.6 90.7l4.5 7.6h-9.0z"/><path d="M1063.6 115.6l4.5 7.6h-9.0z"/><path d="M1063.2 101.9l4.5 7.6h-9.0z"/><path d="M1063.3 85.2l4.5 7.6h-9.0z"/><path d="M1063.3 131.2l4.5 7.6h-9.0z"/><path d="M983.3 179.0l4.5 7.6h-9.0z"/><path d="M983.3 188.2l4.5 7.6h-9.0z"/><path d="M1063.3 39.5l4.5 7.6h-9.0z"/><path d="M1063.3 45.2l4.5 7.6h-9.0z"/><path d="M1063.3 60.2l4.5 7.6h-9.0z"/><path d="M1063.3 170.7l4.5 7.6h-9.0z"/>
</g>
<g fill="#3135ac" fill-opacity="0.33">
<circle cx="992.0" cy="215.5" r="3.3"/><circle cx="991.5" cy="212.3" r="3.3"/><circle cx="992.0" cy="203.4" r="3.3"/><circle cx="991.9" cy="215.8" r="3.3"/><circle cx="991.9" cy="211.7" r="3.3"/><circle cx="991.7" cy="203.1" r="3.3"/><circle cx="992.0" cy="226.3" r="3.3"/><circle cx="991.5" cy="225.8" r="3.3"/><circle cx="992.0" cy="217.6" r="3.3"/><circle cx="991.8" cy="224.2" r="3.3"/><circle cx="991.5" cy="203.1" r="3.3"/><circle cx="991.5" cy="199.8" r="3.3"/><circle cx="991.8" cy="214.9" r="3.3"/><circle cx="991.7" cy="196.0" r="3.3"/><circle cx="991.7" cy="231.0" r="3.3"/><circle cx="1071.6" cy="108.4" r="3.3"/><circle cx="1072.0" cy="129.2" r="3.3"/><circle cx="1071.4" cy="123.9" r="3.3"/><circle cx="1071.4" cy="121.7" r="3.3"/><circle cx="1071.8" cy="129.3" r="3.3"/><circle cx="1072.0" cy="138.2" r="3.3"/><circle cx="1072.0" cy="122.6" r="3.3"/><circle cx="1071.5" cy="96.2" r="3.3"/><circle cx="1071.9" cy="101.4" r="3.3"/><circle cx="1071.7" cy="105.4" r="3.3"/><circle cx="1071.9" cy="151.1" r="3.3"/><circle cx="1071.6" cy="118.8" r="3.3"/><circle cx="1071.7" cy="95.0" r="3.3"/><circle cx="1071.7" cy="152.0" r="3.3"/><circle cx="1071.7" cy="187.0" r="3.3"/>
</g>
<g fill="#3135ac" fill-opacity="0.33">
<path d="M991.8 210.8l4.5 7.6h-9.0z"/><path d="M991.8 199.9l4.5 7.6h-9.0z"/><path d="M991.7 199.9l4.5 7.6h-9.0z"/><path d="M991.7 215.8l4.5 7.6h-9.0z"/><path d="M991.7 215.6l4.5 7.6h-9.0z"/><path d="M991.4 196.3l4.5 7.6h-9.0z"/><path d="M991.5 213.3l4.5 7.6h-9.0z"/><path d="M991.5 201.3l4.5 7.6h-9.0z"/><path d="M991.7 197.9l4.5 7.6h-9.0z"/><path d="M991.6 220.9l4.5 7.6h-9.0z"/><path d="M991.6 209.7l4.5 7.6h-9.0z"/><path d="M991.5 188.2l4.5 7.6h-9.0z"/><path d="M991.9 215.7l4.5 7.6h-9.0z"/><path d="M991.8 194.3l4.5 7.6h-9.0z"/><path d="M991.8 203.8l4.5 7.6h-9.0z"/><path d="M991.7 186.2l4.5 7.6h-9.0z"/><path d="M991.7 225.2l4.5 7.6h-9.0z"/><path d="M1071.6 99.2l4.5 7.6h-9.0z"/><path d="M1071.6 109.1l4.5 7.6h-9.0z"/><path d="M1071.7 96.3l4.5 7.6h-9.0z"/><path d="M1071.9 91.8l4.5 7.6h-9.0z"/><path d="M1071.9 106.6l4.5 7.6h-9.0z"/><path d="M1071.8 116.0l4.5 7.6h-9.0z"/><path d="M1071.9 118.1l4.5 7.6h-9.0z"/><path d="M1071.8 126.5l4.5 7.6h-9.0z"/><path d="M1071.8 102.8l4.5 7.6h-9.0z"/><path d="M1071.6 127.2l4.5 7.6h-9.0z"/><path d="M1071.7 109.0l4.5 7.6h-9.0z"/><path d="M1071.9 124.3l4.5 7.6h-9.0z"/><path d="M1071.4 122.6l4.5 7.6h-9.0z"/><path d="M1071.8 110.7l4.5 7.6h-9.0z"/><path d="M1071.7 88.2l4.5 7.6h-9.0z"/><path d="M1071.7 129.2l4.5 7.6h-9.0z"/><path d="M991.7 169.0l4.5 7.6h-9.0z"/><path d="M991.7 174.9l4.5 7.6h-9.0z"/><path d="M991.7 179.2l4.5 7.6h-9.0z"/><path d="M1071.7 62.2l4.5 7.6h-9.0z"/><path d="M1071.7 67.2l4.5 7.6h-9.0z"/><path d="M1071.7 72.9l4.5 7.6h-9.0z"/><path d="M1071.7 80.2l4.5 7.6h-9.0z"/>
</g>
<path d="M983.3 213L1063.3 126" stroke="#000" stroke-width="2.0" fill="none"/>
<path d="M991.7 214L1071.7 138" stroke="#16168c" stroke-width="1.8" fill="none"/>
<path d="M991.7 200L1071.7 103" stroke="#16168c" stroke-width="1.8" stroke-dasharray="5.5 4" fill="none"/>
<path d="M955.5 35V254.2H1099" stroke="#000" stroke-width="1.5" fill="none"/>
<path d="M951.0 244.25H955.5" stroke="#000" stroke-width="1.5"/>
<text x="942.8" y="250.9" text-anchor="end" font-size="25.1">0.00</text>
<path d="M951.0 175.4H955.5" stroke="#000" stroke-width="1.5"/>
<text x="942.8" y="182.1" text-anchor="end" font-size="25.1">0.01</text>
<path d="M951.0 106.5H955.5" stroke="#000" stroke-width="1.5"/>
<text x="942.8" y="113.2" text-anchor="end" font-size="25.1">0.02</text>
<path d="M951.0 37.6H955.5" stroke="#000" stroke-width="1.5"/>
<text x="942.8" y="44.3" text-anchor="end" font-size="25.1">0.03</text>
<text x="965.6" y="55.8" class="t">GxT</text>
<text x="976.5" y="86.7" class="t">ns</text>
</g>
<g>
<text x="1264.5" y="21.7" text-anchor="middle" class="t">Cu2</text>
<path d="M1218.8 174L1289.7 141V168L1218.8 187Z" fill="#000000" fill-opacity="0.29"/>
<path d="M1218.8 163L1289.7 88V110L1218.8 179Z" fill="#000000" fill-opacity="0.29"/>
<path d="M1226.3 205L1297.2 165V184L1226.3 221Z" fill="#3338b8" fill-opacity="0.29"/>
<path d="M1226.3 174L1297.2 112V137L1226.3 188Z" fill="#3338b8" fill-opacity="0.29"/>
<g fill="#000000" fill-opacity="0.33">
<circle cx="1218.8" cy="182.2" r="3.3"/><circle cx="1218.8" cy="168.1" r="3.3"/><circle cx="1218.9" cy="171.7" r="3.3"/><circle cx="1218.5" cy="178.7" r="3.3"/><circle cx="1218.5" cy="188.2" r="3.3"/><circle cx="1218.9" cy="174.1" r="3.3"/><circle cx="1218.6" cy="186.6" r="3.3"/><circle cx="1218.7" cy="185.3" r="3.3"/><circle cx="1218.6" cy="176.5" r="3.3"/><circle cx="1218.7" cy="185.9" r="3.3"/><circle cx="1218.8" cy="165.0" r="3.3"/><circle cx="1218.8" cy="192.0" r="3.3"/><circle cx="1289.7" cy="150.9" r="3.3"/><circle cx="1289.9" cy="149.8" r="3.3"/><circle cx="1289.6" cy="134.7" r="3.3"/><circle cx="1289.8" cy="156.2" r="3.3"/><circle cx="1289.9" cy="160.8" r="3.3"/><circle cx="1289.8" cy="155.4" r="3.3"/><circle cx="1289.8" cy="132.0" r="3.3"/><circle cx="1289.7" cy="126.0" r="3.3"/><circle cx="1289.7" cy="170.0" r="3.3"/><circle cx="1289.7" cy="198.0" r="3.3"/>
</g>
<g fill="#000000" fill-opacity="0.33">
<path d="M1218.8 162.1l4.5 7.6h-9.0z"/><path d="M1218.8 150.0l4.5 7.6h-9.0z"/><path d="M1218.6 159.3l4.5 7.6h-9.0z"/><path d="M1218.6 171.8l4.5 7.6h-9.0z"/><path d="M1219.0 160.7l4.5 7.6h-9.0z"/><path d="M1218.6 178.8l4.5 7.6h-9.0z"/><path d="M1218.6 178.1l4.5 7.6h-9.0z"/><path d="M1218.7 170.9l4.5 7.6h-9.0z"/><path d="M1218.8 165.0l4.5 7.6h-9.0z"/><path d="M1219.0 170.0l4.5 7.6h-9.0z"/><path d="M1218.8 176.9l4.5 7.6h-9.0z"/><path d="M1218.6 175.7l4.5 7.6h-9.0z"/><path d="M1219.1 175.7l4.5 7.6h-9.0z"/><path d="M1218.7 149.3l4.5 7.6h-9.0z"/><path d="M1218.8 146.7l4.5 7.6h-9.0z"/><path d="M1218.8 186.2l4.5 7.6h-9.0z"/><path d="M1289.5 104.2l4.5 7.6h-9.0z"/><path d="M1289.5 107.6l4.5 7.6h-9.0z"/><path d="M1290.0 89.6l4.5 7.6h-9.0z"/><path d="M1289.9 101.9l4.5 7.6h-9.0z"/><path d="M1289.9 106.8l4.5 7.6h-9.0z"/><path d="M1289.8 107.1l4.5 7.6h-9.0z"/><path d="M1289.8 93.8l4.5 7.6h-9.0z"/><path d="M1289.6 84.9l4.5 7.6h-9.0z"/><path d="M1289.7 94.6l4.5 7.6h-9.0z"/><path d="M1289.9 82.7l4.5 7.6h-9.0z"/><path d="M1289.8 103.8l4.5 7.6h-9.0z"/><path d="M1289.5 96.6l4.5 7.6h-9.0z"/><path d="M1289.7 75.2l4.5 7.6h-9.0z"/><path d="M1289.7 112.7l4.5 7.6h-9.0z"/><path d="M1218.8 193.2l4.5 7.6h-9.0z"/><path d="M1218.8 201.2l4.5 7.6h-9.0z"/><path d="M1289.7 39.5l4.5 7.6h-9.0z"/><path d="M1289.7 64.5l4.5 7.6h-9.0z"/><path d="M1289.7 72.2l4.5 7.6h-9.0z"/>
</g>
<g fill="#3135ac" fill-opacity="0.33">
<circle cx="1226.2" cy="216.5" r="3.3"/><circle cx="1226.2" cy="223.2" r="3.3"/><circle cx="1226.1" cy="210.7" r="3.3"/><circle cx="1226.5" cy="206.7" r="3.3"/><circle cx="1226.6" cy="215.1" r="3.3"/><circle cx="1226.1" cy="218.5" r="3.3"/><circle cx="1226.2" cy="201.1" r="3.3"/><circle cx="1226.3" cy="204.2" r="3.3"/><circle cx="1226.3" cy="220.9" r="3.3"/><circle cx="1226.4" cy="216.8" r="3.3"/><circle cx="1226.4" cy="222.0" r="3.3"/><circle cx="1226.4" cy="203.9" r="3.3"/><circle cx="1226.3" cy="216.1" r="3.3"/><circle cx="1226.2" cy="192.3" r="3.3"/><circle cx="1226.6" cy="215.8" r="3.3"/><circle cx="1226.6" cy="208.7" r="3.3"/><circle cx="1226.3" cy="190.0" r="3.3"/><circle cx="1226.3" cy="229.0" r="3.3"/><circle cx="1297.2" cy="188.4" r="3.3"/><circle cx="1297.2" cy="190.5" r="3.3"/><circle cx="1297.5" cy="173.5" r="3.3"/><circle cx="1297.2" cy="178.5" r="3.3"/><circle cx="1297.5" cy="158.4" r="3.3"/><circle cx="1297.4" cy="152.8" r="3.3"/><circle cx="1297.2" cy="156.8" r="3.3"/><circle cx="1297.2" cy="144.7" r="3.3"/><circle cx="1297.2" cy="201.0" r="3.3"/>
</g>
<g fill="#3135ac" fill-opacity="0.33">
<path d="M1226.6 203.5l4.5 7.6h-9.0z"/><path d="M1226.5 185.3l4.5 7.6h-9.0z"/><path d="M1226.6 166.3l4.5 7.6h-9.0z"/><path d="M1226.5 202.8l4.5 7.6h-9.0z"/><path d="M1226.6 202.7l4.5 7.6h-9.0z"/><path d="M1226.6 182.8l4.5 7.6h-9.0z"/><path d="M1226.2 202.2l4.5 7.6h-9.0z"/><path d="M1226.4 175.4l4.5 7.6h-9.0z"/><path d="M1226.5 186.2l4.5 7.6h-9.0z"/><path d="M1226.2 199.0l4.5 7.6h-9.0z"/><path d="M1226.3 198.1l4.5 7.6h-9.0z"/><path d="M1226.4 199.3l4.5 7.6h-9.0z"/><path d="M1226.0 193.0l4.5 7.6h-9.0z"/><path d="M1226.1 201.5l4.5 7.6h-9.0z"/><path d="M1226.0 174.8l4.5 7.6h-9.0z"/><path d="M1226.0 165.1l4.5 7.6h-9.0z"/><path d="M1226.2 198.5l4.5 7.6h-9.0z"/><path d="M1226.1 194.6l4.5 7.6h-9.0z"/><path d="M1226.3 161.2l4.5 7.6h-9.0z"/><path d="M1226.3 217.2l4.5 7.6h-9.0z"/><path d="M1297.4 126.6l4.5 7.6h-9.0z"/><path d="M1297.3 103.9l4.5 7.6h-9.0z"/><path d="M1297.3 126.0l4.5 7.6h-9.0z"/><path d="M1297.2 111.6l4.5 7.6h-9.0z"/><path d="M1297.0 123.8l4.5 7.6h-9.0z"/><path d="M1297.2 124.2l4.5 7.6h-9.0z"/><path d="M1297.1 111.8l4.5 7.6h-9.0z"/><path d="M1296.9 113.9l4.5 7.6h-9.0z"/><path d="M1297.1 125.7l4.5 7.6h-9.0z"/><path d="M1297.1 126.3l4.5 7.6h-9.0z"/><path d="M1297.4 128.6l4.5 7.6h-9.0z"/><path d="M1297.0 118.1l4.5 7.6h-9.0z"/><path d="M1297.2 100.2l4.5 7.6h-9.0z"/><path d="M1297.2 136.2l4.5 7.6h-9.0z"/><path d="M1226.3 147.2l4.5 7.6h-9.0z"/><path d="M1297.2 80.2l4.5 7.6h-9.0z"/><path d="M1297.2 86.9l4.5 7.6h-9.0z"/><path d="M1297.2 91.9l4.5 7.6h-9.0z"/>
</g>
<path d="M1218.8 180.5L1289.7 155" stroke="#000" stroke-width="2.0" fill="none"/>
<path d="M1218.8 171.5L1289.7 97" stroke="#000" stroke-width="2.0" stroke-dasharray="5.5 4" fill="none"/>
<path d="M1226.3 213.5L1297.2 174.5" stroke="#16168c" stroke-width="1.8" fill="none"/>
<path d="M1226.3 180L1297.2 121" stroke="#16168c" stroke-width="1.8" stroke-dasharray="5.5 4" fill="none"/>
<path d="M1193.7 35V254.2H1321.5" stroke="#000" stroke-width="1.5" fill="none"/>
<path d="M1189.2 244.25H1193.7" stroke="#000" stroke-width="1.5"/>
<text x="1184.3" y="250.9" text-anchor="end" font-size="25.1">0.0000</text>
<path d="M1189.2 188.1H1193.7" stroke="#000" stroke-width="1.5"/>
<text x="1184.3" y="194.8" text-anchor="end" font-size="25.1">0.0025</text>
<path d="M1189.2 132H1193.7" stroke="#000" stroke-width="1.5"/>
<text x="1184.3" y="138.7" text-anchor="end" font-size="25.1">0.0050</text>
<path d="M1189.2 76H1193.7" stroke="#000" stroke-width="1.5"/>
<text x="1184.3" y="82.7" text-anchor="end" font-size="25.1">0.0075</text>
<text x="1203.6" y="55.8" class="t">GxT</text>
<text x="1214.5" y="86.7" class="t">ns</text>
</g>
<g>
<text x="1474.5" y="21.7" text-anchor="middle" class="t">Pc</text>
<path d="M1425.8 145L1501.7 118V148L1425.8 168Z" fill="#000000" fill-opacity="0.29"/>
<path d="M1425.8 158L1501.7 89V114L1425.8 180Z" fill="#000000" fill-opacity="0.29"/>
<path d="M1433.8 188L1509.2 136V170L1433.8 209Z" fill="#3338b8" fill-opacity="0.29"/>
<path d="M1433.8 168L1509.2 105V132L1433.8 187Z" fill="#3338b8" fill-opacity="0.29"/>
<g fill="#000000" fill-opacity="0.33">
<circle cx="1425.7" cy="150.1" r="3.3"/><circle cx="1426.1" cy="144.5" r="3.3"/><circle cx="1426.0" cy="162.9" r="3.3"/><circle cx="1425.8" cy="147.6" r="3.3"/><circle cx="1425.7" cy="146.8" r="3.3"/><circle cx="1425.6" cy="165.0" r="3.3"/><circle cx="1425.9" cy="157.5" r="3.3"/><circle cx="1425.9" cy="151.7" r="3.3"/><circle cx="1425.5" cy="176.8" r="3.3"/><circle cx="1425.6" cy="156.4" r="3.3"/><circle cx="1425.8" cy="143.0" r="3.3"/><circle cx="1425.8" cy="180.0" r="3.3"/><circle cx="1501.9" cy="134.8" r="3.3"/><circle cx="1501.5" cy="139.7" r="3.3"/><circle cx="1501.8" cy="118.3" r="3.3"/><circle cx="1502.0" cy="130.8" r="3.3"/><circle cx="1501.4" cy="139.9" r="3.3"/><circle cx="1501.5" cy="131.1" r="3.3"/><circle cx="1501.8" cy="128.5" r="3.3"/><circle cx="1501.7" cy="110.0" r="3.3"/><circle cx="1501.7" cy="150.0" r="3.3"/><circle cx="1425.8" cy="133.8" r="3.3"/><circle cx="1425.8" cy="139.7" r="3.3"/><circle cx="1501.7" cy="172.0" r="3.3"/>
</g>
<g fill="#000000" fill-opacity="0.33">
<path d="M1425.7 165.4l4.5 7.6h-9.0z"/><path d="M1426.0 155.4l4.5 7.6h-9.0z"/><path d="M1425.8 158.0l4.5 7.6h-9.0z"/><path d="M1425.6 149.3l4.5 7.6h-9.0z"/><path d="M1426.0 174.6l4.5 7.6h-9.0z"/><path d="M1425.9 166.1l4.5 7.6h-9.0z"/><path d="M1425.9 167.3l4.5 7.6h-9.0z"/><path d="M1425.5 161.8l4.5 7.6h-9.0z"/><path d="M1425.6 171.5l4.5 7.6h-9.0z"/><path d="M1425.7 175.7l4.5 7.6h-9.0z"/><path d="M1426.0 144.3l4.5 7.6h-9.0z"/><path d="M1425.6 159.2l4.5 7.6h-9.0z"/><path d="M1426.0 180.4l4.5 7.6h-9.0z"/><path d="M1425.8 160.9l4.5 7.6h-9.0z"/><path d="M1425.7 163.6l4.5 7.6h-9.0z"/><path d="M1426.1 161.8l4.5 7.6h-9.0z"/><path d="M1425.8 141.2l4.5 7.6h-9.0z"/><path d="M1425.8 186.5l4.5 7.6h-9.0z"/><path d="M1501.8 94.5l4.5 7.6h-9.0z"/><path d="M1501.8 121.3l4.5 7.6h-9.0z"/><path d="M1501.6 108.8l4.5 7.6h-9.0z"/><path d="M1501.7 94.2l4.5 7.6h-9.0z"/><path d="M1501.6 113.1l4.5 7.6h-9.0z"/><path d="M1501.5 108.0l4.5 7.6h-9.0z"/><path d="M1501.4 116.7l4.5 7.6h-9.0z"/><path d="M1501.8 110.7l4.5 7.6h-9.0z"/><path d="M1502.0 124.1l4.5 7.6h-9.0z"/><path d="M1501.4 103.5l4.5 7.6h-9.0z"/><path d="M1501.6 94.7l4.5 7.6h-9.0z"/><path d="M1501.9 119.5l4.5 7.6h-9.0z"/><path d="M1501.7 86.9l4.5 7.6h-9.0z"/><path d="M1501.7 131.2l4.5 7.6h-9.0z"/><path d="M1425.8 184.2l4.5 7.6h-9.0z"/><path d="M1501.7 39.5l4.5 7.6h-9.0z"/><path d="M1501.7 54.5l4.5 7.6h-9.0z"/><path d="M1501.7 66.2l4.5 7.6h-9.0z"/>
</g>
<g fill="#3135ac" fill-opacity="0.33">
<circle cx="1433.7" cy="205.8" r="3.3"/><circle cx="1433.5" cy="197.5" r="3.3"/><circle cx="1433.8" cy="209.3" r="3.3"/><circle cx="1433.8" cy="197.3" r="3.3"/><circle cx="1433.9" cy="216.8" r="3.3"/><circle cx="1433.8" cy="218.7" r="3.3"/><circle cx="1434.1" cy="211.8" r="3.3"/><circle cx="1433.7" cy="218.8" r="3.3"/><circle cx="1434.1" cy="194.5" r="3.3"/><circle cx="1433.8" cy="225.2" r="3.3"/><circle cx="1433.6" cy="177.1" r="3.3"/><circle cx="1434.0" cy="195.9" r="3.3"/><circle cx="1433.6" cy="192.9" r="3.3"/><circle cx="1434.1" cy="211.3" r="3.3"/><circle cx="1434.0" cy="196.7" r="3.3"/><circle cx="1434.1" cy="191.2" r="3.3"/><circle cx="1433.8" cy="175.0" r="3.3"/><circle cx="1433.8" cy="227.7" r="3.3"/><circle cx="1508.9" cy="146.9" r="3.3"/><circle cx="1509.2" cy="142.1" r="3.3"/><circle cx="1509.0" cy="158.1" r="3.3"/><circle cx="1508.9" cy="136.6" r="3.3"/><circle cx="1509.1" cy="139.2" r="3.3"/><circle cx="1509.1" cy="160.4" r="3.3"/><circle cx="1509.5" cy="137.2" r="3.3"/><circle cx="1509.2" cy="130.0" r="3.3"/><circle cx="1509.2" cy="165.0" r="3.3"/><circle cx="1433.8" cy="124.7" r="3.3"/><circle cx="1433.8" cy="218.5" r="3.3"/><circle cx="1509.2" cy="172.8" r="3.3"/>
</g>
<g fill="#3135ac" fill-opacity="0.33">
<path d="M1433.8 169.3l4.5 7.6h-9.0z"/><path d="M1434.0 162.5l4.5 7.6h-9.0z"/><path d="M1433.7 197.7l4.5 7.6h-9.0z"/><path d="M1433.5 169.6l4.5 7.6h-9.0z"/><path d="M1434.0 187.1l4.5 7.6h-9.0z"/><path d="M1433.9 157.4l4.5 7.6h-9.0z"/><path d="M1433.6 169.8l4.5 7.6h-9.0z"/><path d="M1433.9 168.9l4.5 7.6h-9.0z"/><path d="M1433.8 183.2l4.5 7.6h-9.0z"/><path d="M1433.8 166.1l4.5 7.6h-9.0z"/><path d="M1433.6 194.1l4.5 7.6h-9.0z"/><path d="M1433.9 166.9l4.5 7.6h-9.0z"/><path d="M1433.7 174.0l4.5 7.6h-9.0z"/><path d="M1433.9 177.1l4.5 7.6h-9.0z"/><path d="M1433.5 186.8l4.5 7.6h-9.0z"/><path d="M1433.7 198.3l4.5 7.6h-9.0z"/><path d="M1433.8 156.2l4.5 7.6h-9.0z"/><path d="M1433.8 201.2l4.5 7.6h-9.0z"/><path d="M1509.2 152.2l4.5 7.6h-9.0z"/><path d="M1508.9 123.8l4.5 7.6h-9.0z"/><path d="M1509.3 129.6l4.5 7.6h-9.0z"/><path d="M1509.2 112.6l4.5 7.6h-9.0z"/><path d="M1509.0 114.8l4.5 7.6h-9.0z"/><path d="M1509.4 129.4l4.5 7.6h-9.0z"/><path d="M1509.4 125.1l4.5 7.6h-9.0z"/><path d="M1509.0 113.5l4.5 7.6h-9.0z"/><path d="M1509.0 137.4l4.5 7.6h-9.0z"/><path d="M1508.9 119.0l4.5 7.6h-9.0z"/><path d="M1509.3 147.4l4.5 7.6h-9.0z"/><path d="M1509.3 147.2l4.5 7.6h-9.0z"/><path d="M1509.4 132.5l4.5 7.6h-9.0z"/><path d="M1509.2 100.2l4.5 7.6h-9.0z"/><path d="M1509.2 160.9l4.5 7.6h-9.0z"/><path d="M1509.2 75.2l4.5 7.6h-9.0z"/><path d="M1509.2 81.2l4.5 7.6h-9.0z"/>
</g>
<path d="M1425.8 156.5L1501.7 133" stroke="#000" stroke-width="2.0" fill="none"/>
<path d="M1425.8 168.5L1501.7 101" stroke="#000" stroke-width="2.0" stroke-dasharray="5.5 4" fill="none"/>
<path d="M1433.8 197.5L1509.2 152" stroke="#16168c" stroke-width="1.8" fill="none"/>
<path d="M1433.8 177L1509.2 118.5" stroke="#16168c" stroke-width="1.8" stroke-dasharray="5.5 4" fill="none"/>
<path d="M1400.3 35V254.2H1535.7" stroke="#000" stroke-width="1.5" fill="none"/>
<path d="M1395.8 244.25H1400.3" stroke="#000" stroke-width="1.5"/>
<text x="1393.8" y="250.9" text-anchor="end" font-size="25.1">0.000</text>
<path d="M1395.8 201.8H1400.3" stroke="#000" stroke-width="1.5"/>
<text x="1393.8" y="208.5" text-anchor="end" font-size="25.1">0.001</text>
<path d="M1395.8 159.3H1400.3" stroke="#000" stroke-width="1.5"/>
<text x="1393.8" y="166.0" text-anchor="end" font-size="25.1">0.002</text>
<path d="M1395.8 116.8H1400.3" stroke="#000" stroke-width="1.5"/>
<text x="1393.8" y="123.5" text-anchor="end" font-size="25.1">0.003</text>
<path d="M1395.8 74.4H1400.3" stroke="#000" stroke-width="1.5"/>
<text x="1393.8" y="81.1" text-anchor="end" font-size="25.1">0.004</text>
<text x="1412.6" y="55.8" class="t">GxT</text>
<text x="1423.5" y="86.7" class="t">ns</text>
</g>
<rect x="1544.2" y="8.6" width="25.8" height="25.7" fill="#b3b3b3"/>
<rect x="1544.2" y="54.8" width="25.8" height="25.7" fill="#bbbde1"/>
<text x="1581.3" y="30.8" font-style="italic" font-size="23.8">P1<tspan dy="-6.8" dx="0.5" font-size="12.5">+</tspan><tspan dy="6.8" dx="1.8">/P1</tspan><tspan dy="-6.8" dx="1.2" font-size="12.5">+</tspan></text>
<text x="1581.3" y="76" font-style="italic" font-size="23.8">P1<tspan dy="-6.8" dx="0.5" font-size="12.5">+</tspan><tspan dy="6.8" dx="1.8">/P1</tspan><tspan dy="-8.4" dx="2" font-size="13.4">Δ252</tspan></text>
<circle cx="1555.7" cy="117.1" r="3.5" fill="#000"/>
<path d="M1544.25 123.75H1566.75" stroke="#000" stroke-width="1.3"/>
<text x="1580" y="121.6">Male</text>
<path d="M1555.7 156.9l4.6 7.8h-9.2z" fill="#000"/>
<path d="M1544.25 168.75H1563.5" stroke="#000" stroke-width="1.3" stroke-dasharray="6 4"/>
<text x="1580" y="166.9">Female</text>
</svg>
</body></html>
